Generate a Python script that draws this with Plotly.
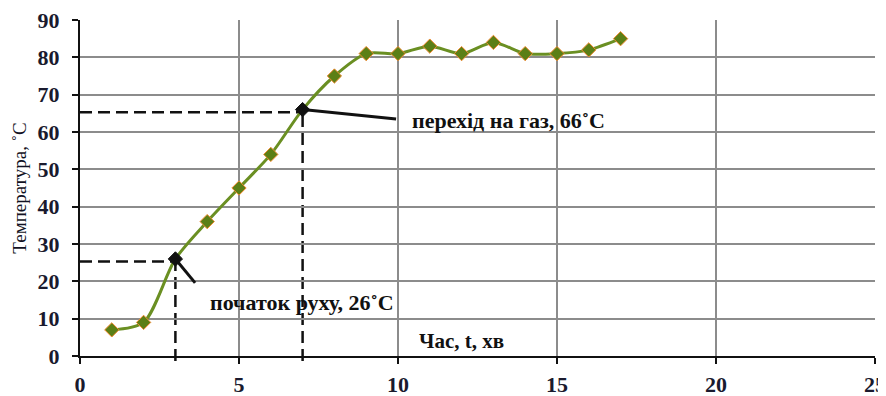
import plotly.graph_objects as go

time_min = [1, 2, 3, 4, 5, 6, 7, 8, 9, 10, 11, 12, 13, 14, 15, 16, 17]
temperature = [7, 9, 26, 36, 45, 54, 66, 75, 81, 81, 83, 81, 84, 81, 81, 82, 85]
x_ticks = [0, 5, 10, 15, 20, 25]
y_ticks = [0, 10, 20, 30, 40, 50, 60, 70, 80, 90]

start_idx = 2   # початок руху
gas_idx = 6     # перехід на газ

x_range = [0, 25]
y_range = [0, 90]

font_serif = "Liberation Serif, Times New Roman, serif"

marker_colors = ["#5b7f16"] * len(time_min)
marker_colors[start_idx] = "#111111"
marker_colors[gas_idx] = "#111111"
line_colors = ["#f08a30"] * len(time_min)
line_colors[start_idx] = "#111111"
line_colors[gas_idx] = "#111111"

fig = go.Figure()
fig.add_trace(go.Scatter(
    x=time_min, y=temperature, mode="lines+markers",
    line=dict(color="#6a8f22", width=3, shape="spline", smoothing=0.8),
    marker=dict(symbol="diamond", size=11, color=marker_colors,
                line=dict(color=line_colors, width=1)),
    showlegend=False, cliponaxis=False,
))

dash = dict(color="#111111", width=2.5, dash="12px,6px")
for idx in (start_idx, gas_idx):
    xv, yv = time_min[idx], temperature[idx]
    fig.add_shape(type="line", xref="x", yref="y", x0=x_range[0], x1=xv,
                  y0=yv - 0.7, y1=yv - 0.7, line=dash, layer="below")
    fig.add_shape(type="line", xref="x", yref="paper", x0=xv, x1=xv,
                  y0=-0.015, y1=(yv - y_range[0]) / (y_range[1] - y_range[0]),
                  line=dash, layer="below")

fig.add_shape(type="line", xref="x", yref="y",
              x0=time_min[start_idx], y0=temperature[start_idx], x1=3.62, y1=19.6,
              line=dict(color="#111111", width=3))
fig.add_shape(type="line", xref="x", yref="y",
              x0=time_min[gas_idx], y0=temperature[gas_idx], x1=9.94, y1=63.5,
              line=dict(color="#111111", width=3))

fig.add_annotation(x=4.03, y=14.2, xref="x", yref="y", xanchor="left",
                   text="<b>початок руху, 26˚C</b>", showarrow=False,
                   font=dict(family=font_serif, size=22, color="#111111"))
fig.add_annotation(x=10.38, y=63.2, xref="x", yref="y", xanchor="left",
                   text="<b>перехід на газ, 66˚C</b>", showarrow=False,
                   font=dict(family=font_serif, size=22, color="#111111"))
fig.add_annotation(x=10.6, y=4.0, xref="x", yref="y", xanchor="left",
                   text="<b>Час, t, хв</b>", showarrow=False,
                   font=dict(family=font_serif, size=21, color="#111111"))

tick_font = dict(family=font_serif, size=22, color="#1a1a2e", weight="bold")
fig.update_xaxes(range=x_range, tickvals=x_ticks, showgrid=True,
                 gridcolor="#8c8c8c", gridwidth=1.5,
                 showline=True, linecolor="#111111", linewidth=2,
                 ticks="outside", ticklen=6, tickwidth=2, tickcolor="#111111",
                 ticklabelstandoff=2, ticklabeloverflow="allow",
                 zeroline=False, automargin=False,
                 tickfont=tick_font)
fig.update_yaxes(range=y_range, tickvals=y_ticks, showgrid=True,
                 gridcolor="#8c8c8c", gridwidth=1.5,
                 showline=True, linecolor="#111111", linewidth=2,
                 ticks="outside", ticklen=6, tickwidth=2, tickcolor="#111111",
                 ticklabelstandoff=8, ticklabeloverflow="allow",
                 zeroline=False, automargin=False,
                 tickfont=tick_font,
                 title=dict(text="Температура, ˚C", standoff=6,
                            font=dict(family=font_serif, size=19, color="#111122")))

# The page body adds an 8 px margin, so the figure is sized to fit the window.
fig.update_layout(
    width=878, height=388,
    margin=dict(l=72, r=11, t=12, b=40),
    plot_bgcolor="white", paper_bgcolor="white",
)

fig.write_html("out.html")
